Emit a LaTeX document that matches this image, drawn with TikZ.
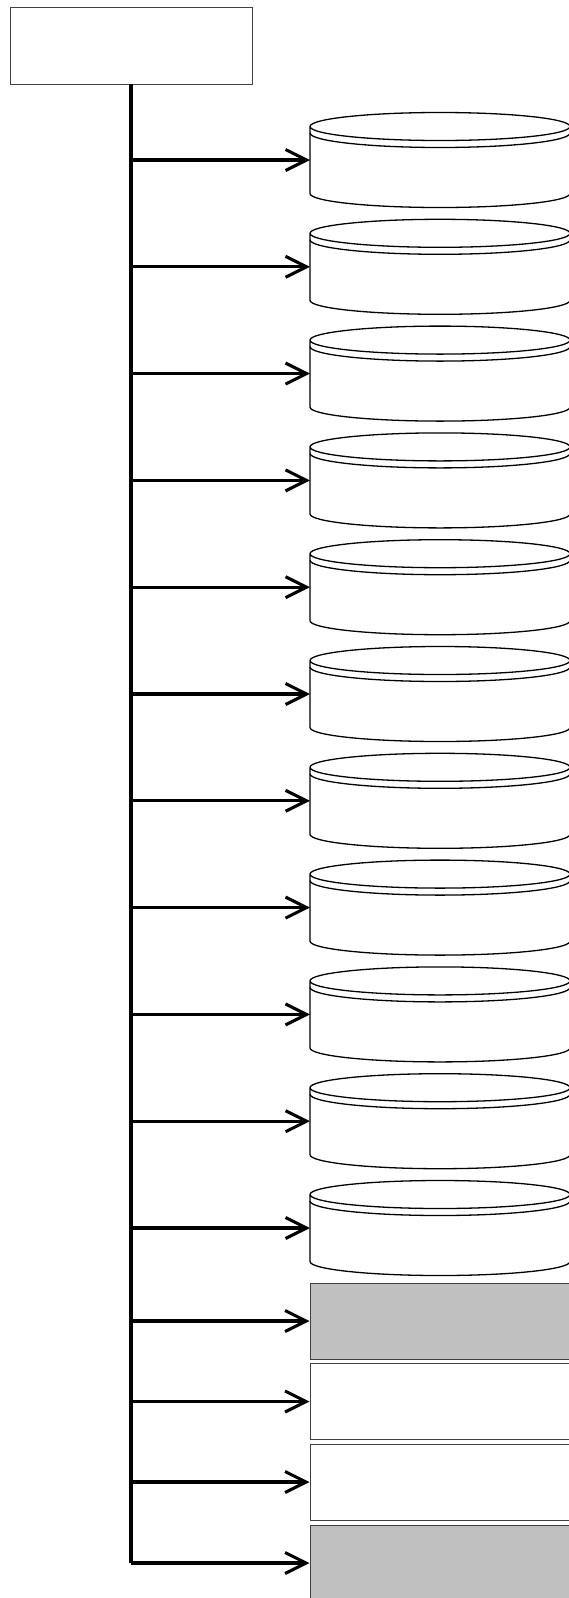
\documentclass[tikz,border=0pt]{standalone}
\usepackage{tikz}
\usetikzlibrary{arrows.meta}
\definecolor{boxgrey}{RGB}{192,192,192}
\tikzstyle{srcbox} = [draw=black!75, fill=white, line width=0.9pt,
    rectangle, minimum width=242pt, minimum height=76.5pt, inner sep=0]
\tikzstyle{tablebox} = [draw=black!75, fill=white, line width=1pt,
    rectangle, minimum width=280pt, minimum height=76pt, inner sep=0, anchor=west]
\tikzstyle{greybox} = [tablebox, fill=boxgrey]
\tikzstyle{dbline} = [draw=black, fill=white, line width=1.3pt]
\tikzstyle{trunk} = [line width=3.1pt]
\tikzstyle{link} = [line width=3.1pt, -{Straight Barb[length=21pt,width=21pt]}]

\begin{document}
\begin{tikzpicture}[x=1pt, y=1pt]
    \clip (0,0) rectangle (569,-1598);
    \node [srcbox] (src) at (131,-45.75) {};

    % databases
    \foreach \i in {1,...,11}{
        \pgfmathsetmacro\ya{-160-106.8*(\i-1)}
        \coordinate (db\i) at (310,\ya);
        \draw [dbline] (310,\ya+33.5) -- (310,\ya-33.5)
            arc[start angle=180, end angle=360, x radius=130, y radius=14]
            -- (570,\ya+33.5)
            arc[start angle=0, end angle=360, x radius=130, y radius=14];
        \draw [dbline, fill=none] (310,\ya+27)
            arc[start angle=180, end angle=360, x radius=130, y radius=14.5];
    }

    % tables
    \node [greybox]  (tbl1) at (309.5,-1321) {};
    \node [tablebox] (tbl2) at (309.5,-1401.5) {};
    \node [tablebox] (tbl3) at (309.5,-1482) {};
    \node [greybox]  (tbl4) at (309.5,-1563) {};

    \coordinate (bottom) at (src.south |- tbl4.west);
    \draw [trunk] (src.south) -- (bottom);
    \foreach \i in {1,...,11}
        \draw [link] (src.south |- db\i) -- (db\i);
    \foreach \i in {1,...,4}
        \draw [link] (src.south |- tbl\i.west) -- (tbl\i.west);
\end{tikzpicture}
\end{document}
